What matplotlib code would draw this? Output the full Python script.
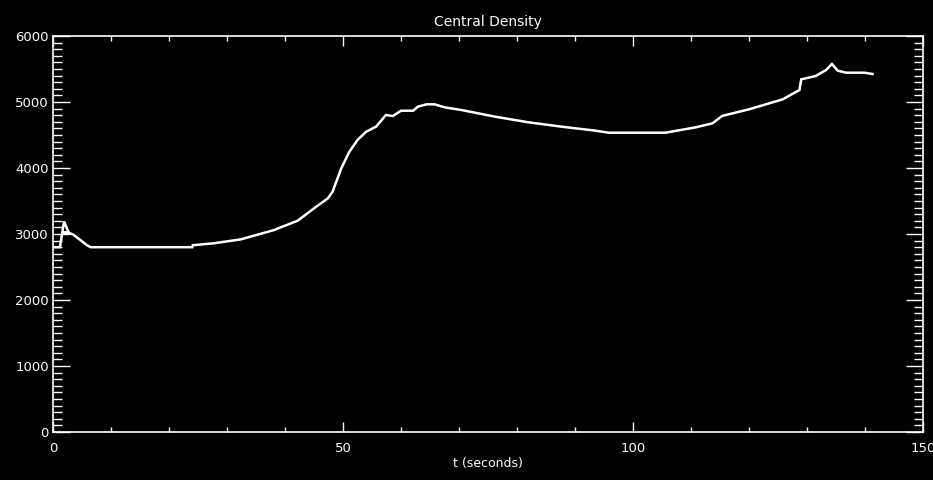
import matplotlib
matplotlib.use("Agg")
import matplotlib.pyplot as plt
from matplotlib.ticker import MultipleLocator

# values (time in s, central density)
t = [0.3, 1.2, 1.9, 2.7, 1.55, 2.7, 3.5, 4.7, 5.8, 6.5, 15.0, 24.0, 24.1,
     27.7, 32.4, 38.1, 42.2, 45.0, 47.4, 48.2, 49.7, 51.1, 52.5, 54.0, 55.7,
     57.4, 58.6, 60.0, 62.1, 62.9, 64.4, 65.8, 67.5, 70.4, 76.2, 82.0, 87.7,
     93.5, 95.8, 105.6, 108.5, 110.8, 113.7, 115.4, 120.0, 125.8, 128.7,
     129.0, 131.5, 133.3, 134.3, 135.3, 136.7, 139.9, 141.3]
density = [2800, 2800, 3190, 3020, 3020, 3020, 2990, 2910, 2833, 2800, 2800,
           2800, 2830, 2859, 2919, 3060, 3202, 3389, 3541, 3641, 3995, 4247,
           4424, 4550, 4626, 4803, 4788, 4868, 4868, 4929, 4965, 4965, 4919,
           4879, 4778, 4692, 4626, 4566, 4535, 4535, 4580, 4616, 4677, 4790,
           4889, 5040, 5182, 5343, 5394, 5485, 5576, 5475, 5444, 5444, 5424]

fg = "white"
fig = plt.figure(figsize=(9.33, 4.8), dpi=100, facecolor="black")
ax = fig.add_axes([53 / 933, 48 / 480, 870 / 933, 396 / 480], facecolor="black")

ax.plot(t, density, color=fg, lw=1.8, solid_joinstyle="miter")

ax.set_xlim(0, 150)
ax.set_ylim(0, 6000)
ax.xaxis.set_major_locator(MultipleLocator(50))
ax.xaxis.set_minor_locator(MultipleLocator(10))
ax.yaxis.set_major_locator(MultipleLocator(1000))
ax.yaxis.set_minor_locator(MultipleLocator(100))

for s in ax.spines.values():
    s.set_color(fg)
    s.set_linewidth(1.2)

ax.tick_params(axis="both", which="both", direction="in", colors=fg,
               top=True, right=True, labelsize=9.5, width=1)
ax.tick_params(axis="x", which="major", length=7, pad=7)
ax.tick_params(axis="x", which="minor", length=3.5)
ax.tick_params(axis="y", which="major", length=12.5, pad=3)
ax.tick_params(axis="y", which="minor", length=6.5)

ax.set_title("Central Density", color=fg, fontsize=10, pad=7)
ax.set_xlabel("t (seconds)", color=fg, fontsize=9, labelpad=2)

fig.savefig("out.png", dpi=100, facecolor="black")
